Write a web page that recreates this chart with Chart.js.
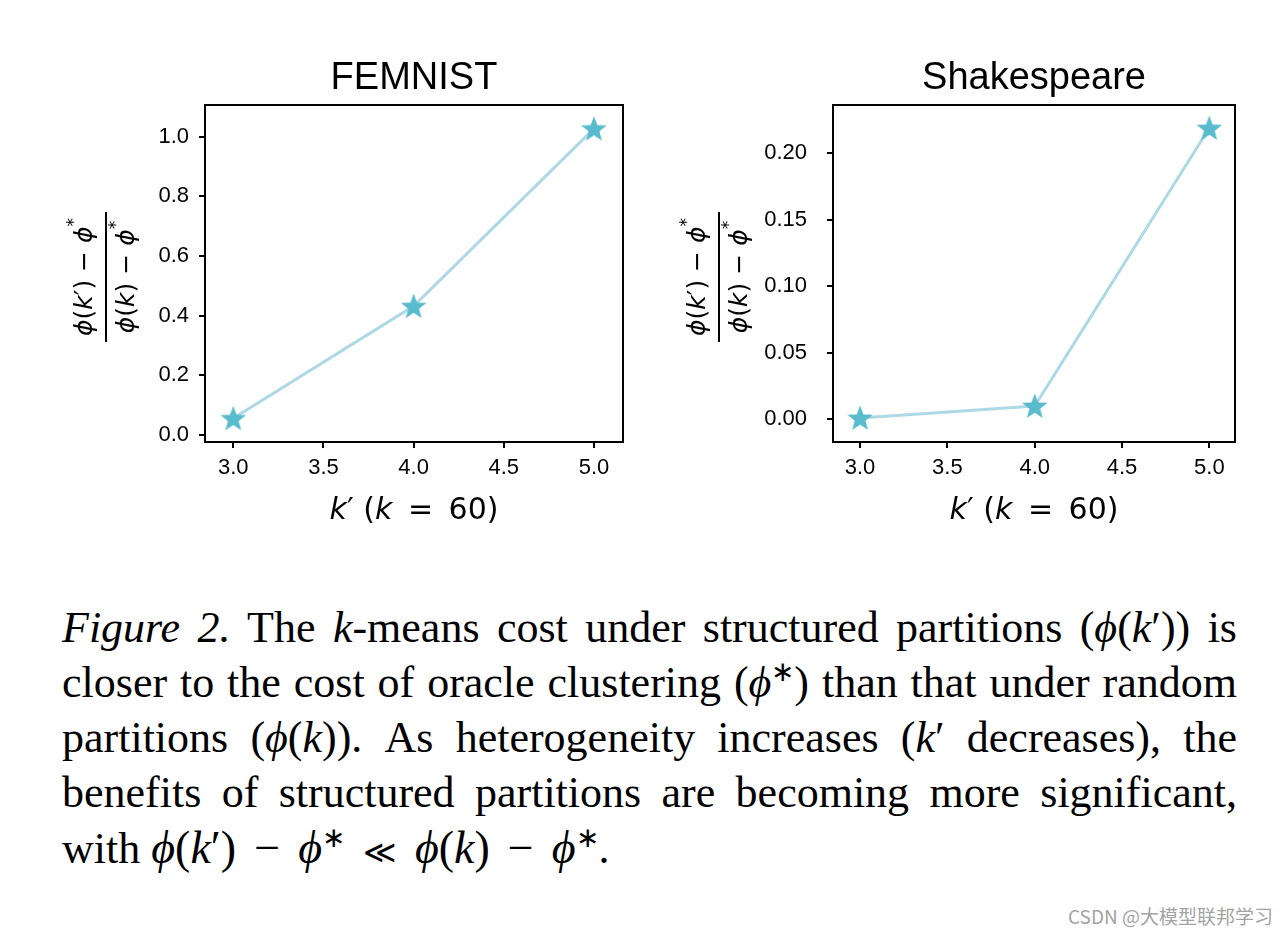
<!DOCTYPE html>
<html>
<head>
  <meta charset="utf-8">
  <title>k-means cost under structured partitions</title>
  <script src="https://cdn.jsdelivr.net/npm/chart.js"></script>
  <style>
    body { margin:0; width:1288px; height:936px; background:#fff; position:relative; overflow:hidden; }
    .plot { position:absolute; top:0; }
    #caption { position:absolute; left:62px; top:600px; width:1175px;
      font-family:"Liberation Serif", "Times New Roman", serif; font-size:44px; color:#000; }
    #caption div { height:55px; line-height:55px; text-align:justify; text-align-last:justify; white-space:nowrap; }
    #caption div.last { text-align-last:left; }
    #caption i { font-style:italic; }
    #caption sup { font-size:28px; line-height:0; }
    .mth { font-size:46px; }
    .op { font-family:"DejaVu Serif", serif; font-size:32px; padding:0 18px; }
    .mi { padding:0 18px; }
    #mark { position:absolute; right:15px; top:902px; font-family:"Noto Sans CJK SC", sans-serif;
      font-size:19px; color:#a3a3a3; }
  </style>
</head>
<body>
  <canvas id="femnist" class="plot" style="left:0px" width="650" height="540"></canvas>
  <canvas id="shakespeare" class="plot" style="left:650px" width="610" height="540"></canvas>

  <div id="caption">
    <div><i>Figure 2.</i> The <i>k</i>-means cost under structured partitions (<i>ϕ</i>(<i>k</i>′)) is</div>
    <div>closer to the cost of oracle clustering (<i>ϕ</i><sup>∗</sup>) than that under random</div>
    <div>partitions (<i>ϕ</i>(<i>k</i>)). As heterogeneity increases (<i>k</i>′ decreases), the</div>
    <div>benefits of structured partitions are becoming more significant,</div>
    <div class="last">with <span class="mth"><i>ϕ</i>(<i>k</i>′)<span class="mi">−</span><i>ϕ</i><sup>∗</sup><span class="op">≪</span><i>ϕ</i>(<i>k</i>)<span class="mi">−</span><i>ϕ</i><sup>∗</sup></span>.</div>
  </div>
  <div id="mark">CSDN @大模型联邦学习</div>

<script>
  // data
  const kPrime = [3, 4, 5];
  const femnistVals = [0.056, 0.432, 1.027];
  const shakespeareVals = [0.001, 0.010, 0.219];
  const xTicks = [3.0, 3.5, 4.0, 4.5, 5.0];
  const femnistTicks = [0.0, 0.2, 0.4, 0.6, 0.8, 1.0];
  const shakespeareTicks = [0.00, 0.05, 0.10, 0.15, 0.20];

  const lineColor = '#ADD8E6';
  const starColor = '#59BCCD';
  const sans = '"Liberation Sans", Arial, sans-serif';
  const dv = '"DejaVu Sans", sans-serif';

  // filled five-point star used as the marker
  function makeStar(size, color) {
    const c = document.createElement('canvas');
    c.width = size; c.height = size;
    const g = c.getContext('2d');
    const r = size / 2 - 0.5, r2 = r * 0.42, cx = size / 2, cy = size / 2 + 1;
    g.beginPath();
    for (let i = 0; i < 10; i++) {
      const rad = i % 2 ? r2 : r;
      const a = -Math.PI / 2 + i * Math.PI / 5;
      g.lineTo(cx + rad * Math.cos(a), cy + rad * Math.sin(a));
    }
    g.closePath();
    g.fillStyle = color;
    g.fill();
    return c;
  }
  const star = makeStar(28, starColor);

  // draws a row of text pieces with different fonts, centred on x
  function drawRuns(ctx, runs, x, y) {
    let w = 0;
    runs.forEach(r => { ctx.font = r[1]; w += ctx.measureText(r[0]).width; });
    let cx = x - w / 2;
    ctx.textAlign = 'left';
    ctx.textBaseline = 'alphabetic';
    runs.forEach(r => {
      ctx.font = r[1];
      ctx.fillText(r[0], cx, y + (r[2] || 0));
      cx += ctx.measureText(r[0]).width;
    });
  }

  // frame, title and axis labels
  const decorPlugin = {
    id: 'decor',
    afterDraw(chart, args, opts) {
      const ctx = chart.ctx, a = chart.chartArea;
      ctx.save();
      ctx.strokeStyle = '#000';
      ctx.lineWidth = 2;
      ctx.strokeRect(a.left, a.top, a.right - a.left, a.bottom - a.top);

      ctx.fillStyle = '#000';
      ctx.font = '38px ' + sans;
      ctx.textAlign = 'center';
      ctx.textBaseline = 'alphabetic';
      ctx.fillText(opts.title, (a.left + a.right) / 2, 89);

      const it = 'italic 30px ' + dv, rm = '30px ' + dv;
      drawRuns(ctx, [['k', it], ['′', rm], [' (', rm], ['k', it], [' \u2009=\u2009 60)', rm]], (a.left + a.right) / 2, 519);

      // y label: (ϕ(k′) − ϕ*) / (ϕ(k) − ϕ*), rotated
      const fi = 'italic 25px ' + dv, fr = '25px ' + dv, fs = '17px ' + dv;
      ctx.translate(opts.barX, 277);
      ctx.rotate(-Math.PI / 2);
      drawRuns(ctx, [['ϕ', fi], ['(', fr], ['k', fi], ['′', fr], [')', fr], [' − ', fr], ['ϕ', fi], ['*', fs, -13]], 0, -14);
      drawRuns(ctx, [['ϕ', fi], ['(', fr], ['k', fi], [')', fr], [' − ', fr], ['ϕ', fi], ['*', fs, -13]], 0, 28);
      ctx.beginPath();
      ctx.moveTo(-65, 0);
      ctx.lineTo(65, 0);
      ctx.stroke();
      ctx.restore();
    }
  };

  function makeChart(id, values, yTicks, decimals, xRange, yRange, title, axisWidth, barX, padRight, yPad) {
    return new Chart(document.getElementById(id), {
      type: 'line',
      data: {
        datasets: [{
          data: kPrime.map((k, i) => ({ x: k, y: values[i] })),
          borderColor: lineColor,
          borderWidth: 3,
          pointStyle: star,
          pointBackgroundColor: starColor,
          pointBorderColor: starColor,
          tension: 0
        }]
      },
      options: {
        responsive: false,
        animation: false,
        devicePixelRatio: 1,
        layout: { padding: { top: 105, right: padRight, left: 0, bottom: 0 } },
        plugins: {
          legend: { display: false },
          tooltip: { enabled: false },
          decor: { title: title, barX: barX }
        },
        scales: {
          x: {
            type: 'linear',
            min: xRange[0], max: xRange[1],
            afterBuildTicks: s => { s.ticks = xTicks.map(v => ({ value: v })); },
            afterFit: s => { s.height = 98; },
            grid: { drawOnChartArea: false, drawTicks: true, tickLength: 6, color: '#000', lineWidth: 2 },
            border: { display: true, color: '#000', width: 2 },
            ticks: { color: '#000', padding: 7, maxRotation: 0, font: { family: sans, size: 22 },
              callback: v => v.toFixed(1) }
          },
          y: {
            min: yRange[0], max: yRange[1],
            afterBuildTicks: s => { s.ticks = yTicks.map(v => ({ value: v })); },
            afterFit: s => { s.width = axisWidth; },
            grid: { drawOnChartArea: false, drawTicks: true, tickLength: 6, color: '#000', lineWidth: 2 },
            border: { display: true, color: '#000', width: 2 },
            ticks: { color: '#000', padding: yPad, font: { family: sans, size: 22 },
              callback: v => v.toFixed(decimals) }
          }
        }
      },
      plugins: [decorPlugin]
    });
  }

  makeChart('femnist', femnistVals, femnistTicks, 1, [2.843, 5.161], [-0.0235, 1.106], 'FEMNIST', 205, 106, 27, 10);
  makeChart('shakespeare', shakespeareVals, shakespeareTicks, 2, [2.845, 5.147], [-0.0171, 0.2363], 'Shakespeare', 183, 69, 25, 20);
</script>
</body>
</html>
